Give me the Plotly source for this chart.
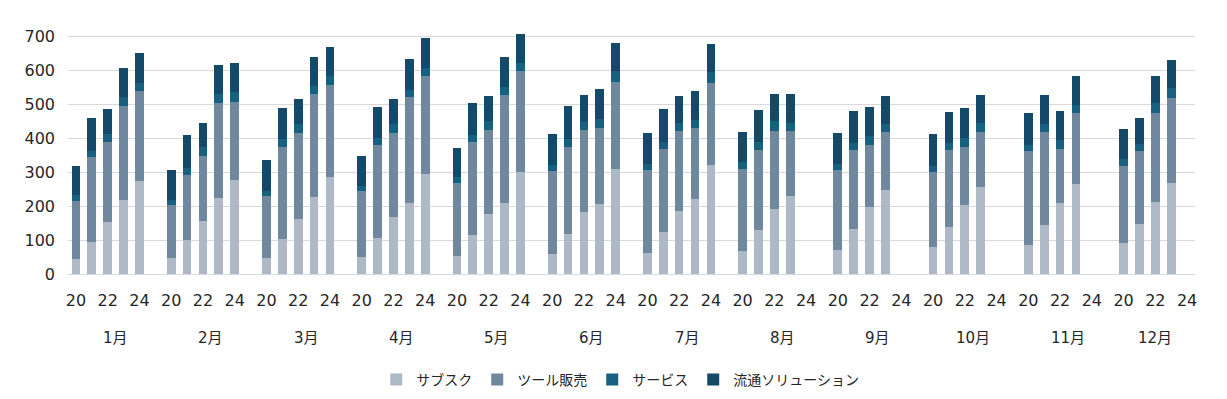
import plotly.graph_objects as go

months = ["1月", "2月", "3月", "4月", "5月", "6月", "7月", "8月", "9月", "10月", "11月", "12月"]
years = ["20", "21", "22", "23", "24"]
year_labels_shown = ["20", "22", "24"]

# values per month, per year 20..24 (None = no data)
subsc = [
    [44, 95, 153, 218, 273], [46, 100, 156, 223, 278], [46, 103, 162, 226, 284],
    [50, 107, 169, 209, 293], [54, 115, 176, 209, 301], [59, 118, 181, 205, 308],
    [62, 123, 184, 222, 320], [68, 128, 191, 229, None], [72, 132, 197, 246, None],
    [78, 138, 203, 256, None], [85, 143, 209, 264, None], [90, 147, 211, 268, None],
]
tool = [
    [170, 249, 235, 275, 264], [157, 191, 191, 279, 227], [183, 272, 252, 303, 271],
    [193, 272, 245, 311, 289], [214, 273, 247, 317, 295], [244, 257, 242, 226, 256],
    [243, 244, 236, 208, 241], [241, 236, 231, 191, None], [233, 233, 182, 171, None],
    [222, 226, 170, 161, None], [276, 274, 158, 209, None], [228, 214, 262, 249, None],
]
service = [
    [18, 17, 24, 28, 26], [16, 22, 27, 27, 30], [16, 21, 27, 24, 27],
    [15, 20, 27, 22, 25], [16, 20, 27, 24, 26], [19, 22, 24, 24, 32],
    [20, 22, 23, 22, 32], [20, 24, 28, 25, None], [19, 20, 27, 24, None],
    [19, 20, 28, 27, None], [19, 23, 28, 25, None], [19, 21, 29, 29, None],
]
distrib = [
    [86, 97, 74, 85, 86], [88, 95, 71, 85, 86], [90, 93, 74, 86, 86],
    [90, 92, 74, 90, 87], [88, 94, 74, 88, 84], [90, 98, 80, 90, 85],
    [90, 97, 80, 86, 84], [90, 95, 79, 85, None], [91, 95, 85, 82, None],
    [93, 93, 86, 83, None], [94, 87, 86, 85, None], [91, 77, 82, 85, None],
]

series_names = ["サブスク", "ツール販売", "サービス", "流通ソリューション"]
series_data = [subsc, tool, service, distrib]
colors = ["#adb9c6", "#6f889d", "#18607f", "#14496a"]

# build category list: 5 years per month, plus a blank spacer slot between months
cats = []
tickvals, ticktext = [], []
month_centers = []
for mi, m in enumerate(months):
    start = len(cats)
    for y in years:
        c = f"{m}-{y}"
        cats.append(c)
        if y in year_labels_shown:
            tickvals.append(c)
            ticktext.append(y)
    if mi < len(months) - 1:
        cats.append(f"{m}-gap")
    end = len(cats) - 1
    month_centers.append((start + end) / 2)

fig = go.Figure()
for name, data, col in zip(series_names, series_data, colors):
    xs, ys = [], []
    for mi, m in enumerate(months):
        for yi, y in enumerate(years):
            xs.append(f"{m}-{y}")
            ys.append(data[mi][yi])
    fig.add_trace(go.Bar(x=xs, y=ys, name=name, marker=dict(color=col, line=dict(width=0))))

for m, c in zip(months, month_centers):
    fig.add_annotation(x=c, y=0, xref="x", yref="paper", text=m, showarrow=False,
                       yanchor="middle", yshift=-64,
                       font=dict(family="DejaVu Sans, Noto Sans CJK JP", size=15, color="#262626"))

# page body has an 8px default margin, so the figure is sized to fit the window
fig.update_layout(
    width=1219, height=391,
    margin=dict(l=60, r=32, t=24, b=125, autoexpand=False),
    barmode="stack", bargap=0.45,
    plot_bgcolor="white", paper_bgcolor="white",
    font=dict(family="DejaVu Sans, Noto Sans CJK JP", size=16, color="#262626"),
    showlegend=True,
    legend=dict(orientation="h", x=0.49, xanchor="center",
                yref="container", y=0.0486, yanchor="middle",
                traceorder="normal", itemwidth=30,
                font=dict(family="Noto Sans CJK JP", size=14, color="#262626")),
)
fig.update_xaxes(type="category", categoryorder="array", categoryarray=cats,
                 range=[-0.5, len(cats) - 0.5], automargin=False,
                 tickmode="array", tickvals=tickvals, ticktext=ticktext, tickangle=0,
                 showgrid=False, showline=False, ticks="", ticklabelstandoff=15,
                 tickfont=dict(family="DejaVu Sans", size=16, color="#262626"))
fig.update_yaxes(range=[0, 712], tickvals=[0, 100, 200, 300, 400, 500, 600, 700],
                 automargin=False,
                 showgrid=True, gridcolor="#d9d9d9", gridwidth=1.3,
                 zeroline=True, zerolinecolor="#d9d9d9", zerolinewidth=1.3,
                 showline=False, ticks="", ticklabelstandoff=12,
                 tickfont=dict(family="DejaVu Sans", size=16, color="#262626"))

fig.write_html("out.html")
